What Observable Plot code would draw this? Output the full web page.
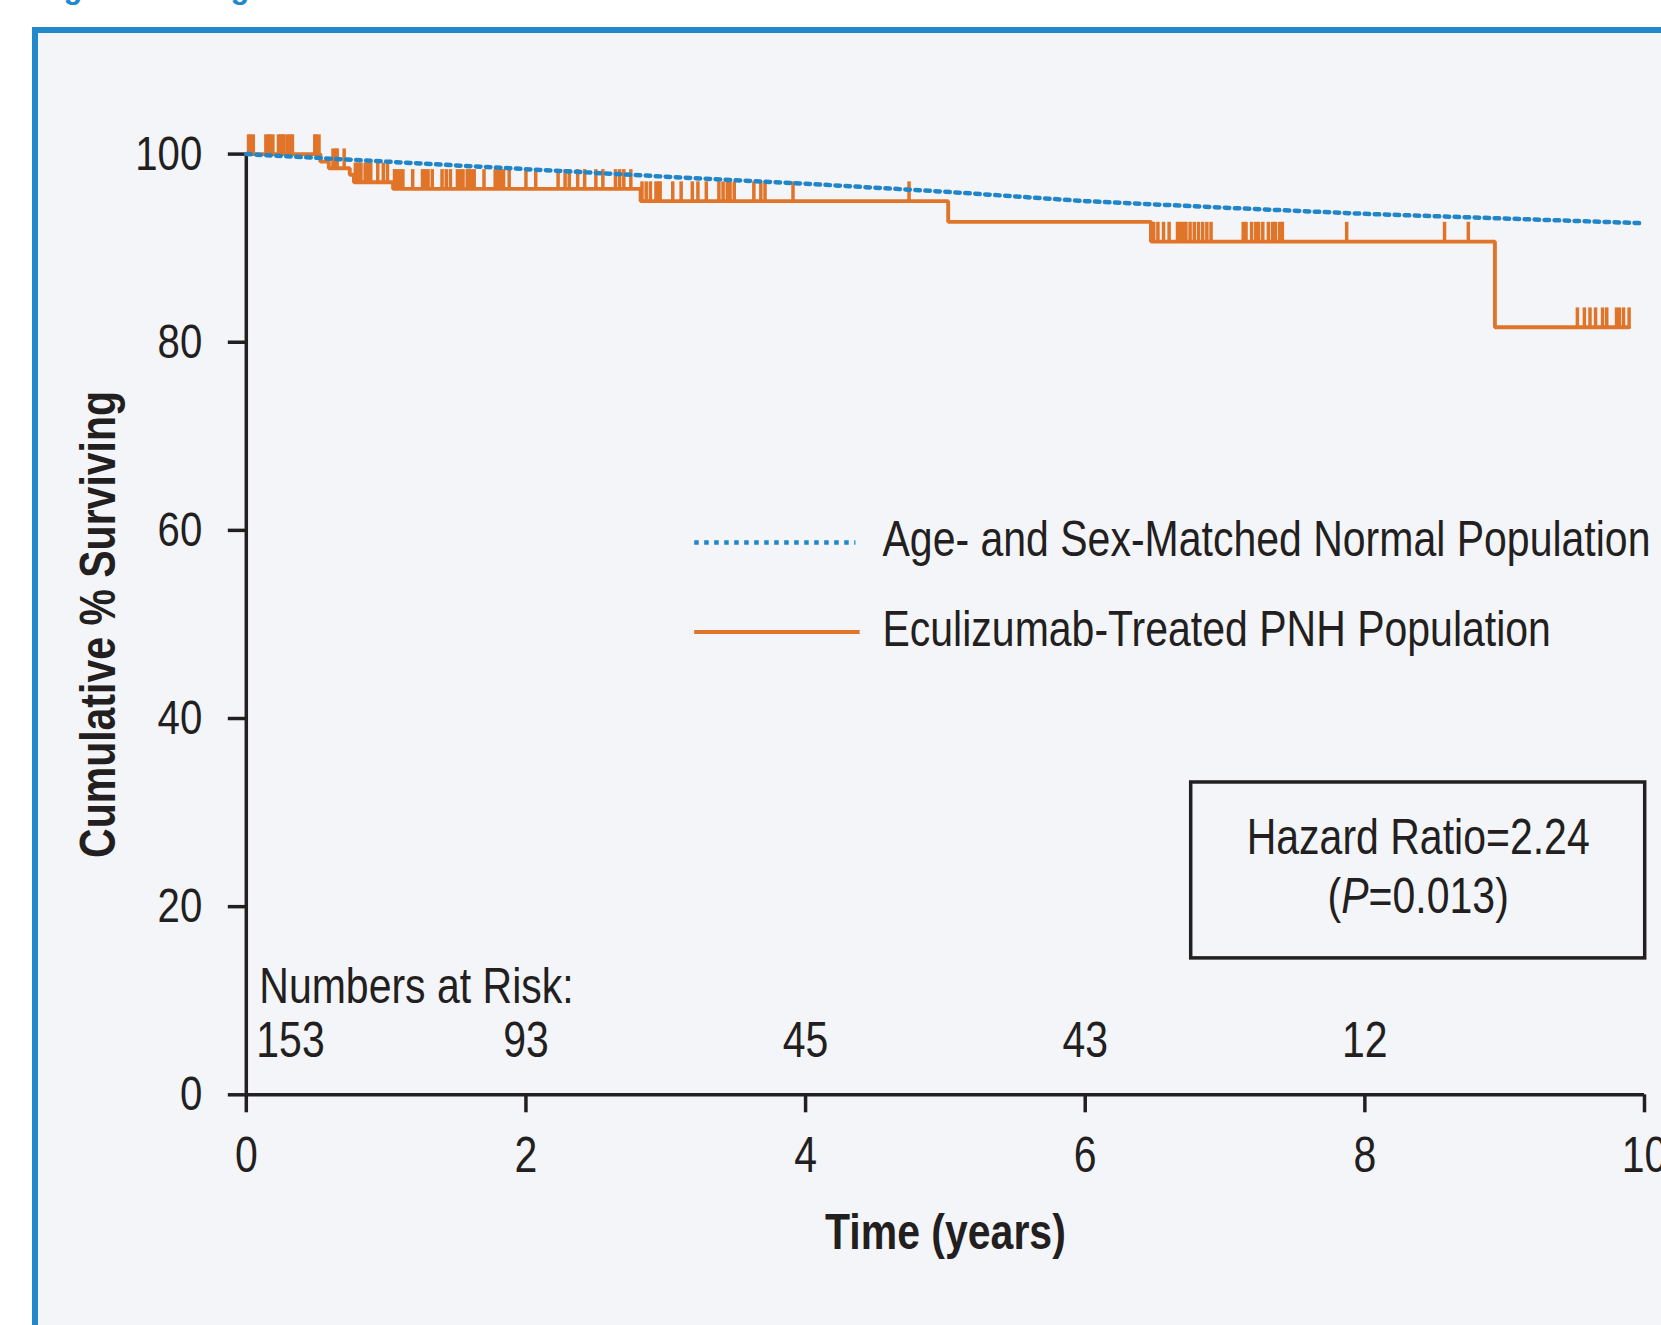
<!DOCTYPE html>
<html><head><meta charset="utf-8">
<script src="https://cdn.jsdelivr.net/npm/d3@7"></script>
<script src="https://cdn.jsdelivr.net/npm/@observablehq/plot@0.6"></script>
<style>
html,body{margin:0;padding:0;background:#fff;}
body{width:1661px;height:1325px;overflow:hidden;position:relative;}
#title{position:absolute;left:36px;top:-28px;font:bold 31px 'Liberation Sans',Arial,sans-serif;color:#2288cc;line-height:1;white-space:nowrap;}
#panel{position:absolute;left:32px;top:27px;width:1700px;height:1400px;background:#f4f5f9;border-left:6px solid #2288cc;border-top:6px solid #2288cc;}
#chart{position:absolute;left:0;top:0;}
</style></head>
<body>
<div id="title">Figure 2. Long-Term Overall Survival</div>
<div id="panel"></div>
<div id="chart"></div>
<script>
// ---- data ----
const xTicks = [0, 2, 4, 6, 8, 10];
const yTicks = [0, 20, 40, 60, 80, 100];

// Kaplan-Meier steps (eculizumab-treated PNH population)
const kmTimes = [0, 0.53, 0.59, 0.74, 0.77, 1.05, 2.82, 5.02, 6.47, 8.93, 9.89];
const kmSurv  = [100, 99.2, 98.5, 97.8, 97.0, 96.3, 95.0, 92.8, 90.7, 81.6, 81.6];

// censoring times (years)
const censorTimes = [
  0.016,0.03,0.05,0.14,0.16,0.17,0.19,0.23,0.245,0.26,0.27,0.295,0.316,0.33,0.49,0.50,0.52,
  0.62,0.64,0.65,0.70,
  0.78,0.80,0.82,0.85,0.87,0.89,0.94,0.98,1.01,
  1.06,1.08,1.10,1.12,1.19,1.26,1.28,1.30,1.33,1.40,1.43,1.46,1.51,1.53,1.55,1.58,1.59,1.61,1.63,
  1.70,1.78,1.80,1.82,1.84,1.88,2.00,2.07,2.23,2.28,2.31,2.37,2.42,2.50,2.55,2.64,2.67,2.70,2.75,
  2.83,2.86,2.89,2.93,2.95,2.96,3.05,3.11,3.19,3.23,3.29,3.38,3.41,3.44,3.46,3.49,3.63,3.68,3.71,3.91,4.74,
  6.49,6.52,6.56,6.60,6.66,6.68,6.70,6.72,6.75,6.78,6.81,6.84,6.87,6.90,
  7.13,7.15,7.19,7.22,7.24,7.27,7.31,7.34,7.36,7.39,7.41,7.87,8.57,8.74,
  9.52,9.57,9.61,9.65,9.70,9.73,9.80,9.82,9.85,9.89
];

// age- and sex-matched normal population
const expTimes = [0, 1, 2, 3, 4, 5, 6, 7, 8, 9, 10];
const expSurv  = [100, 99.2, 98.4, 97.6, 96.85, 96.0, 95.0, 94.3, 93.65, 93.15, 92.65];

// numbers at risk
const riskTimes  = [0, 2, 4, 6, 8];
const riskCounts = [153, 93, 45, 43, 12];

const seriesNames = ["Age- and Sex-Matched Normal Population", "Eculizumab-Treated PNH Population"];
const hazardText = ["Hazard Ratio=2.24", "(P=0.013)"];

// ---- styles ----
const ORANGE = "#e07428";
const BLUE = "#2185c9";
const INK = "#231f20";
const FONT = "'Liberation Sans',Arial,Helvetica,sans-serif";
const CONDENSE = 0.82;
const DOTS = "4.5,5.5";

const km = kmTimes.map((t, i) => ({t, s: kmSurv[i]}));
const exp = expTimes.map((t, i) => ({t, s: expSurv[i]}));
function levelAt(t) {
  let v = kmSurv[0];
  for (let i = 0; i < kmTimes.length; i++) if (kmTimes[i] <= t) v = kmSurv[i];
  return v;
}
const censors = censorTimes.map(t => ({t, s: levelAt(t)}));
const risk = riskTimes.map((t, i) => ({t, n: riskCounts[i]}));

// legend / annotation layout (in chart units)
const legendY = [58.7, 49.2];
const legendX = [3.207, 4.39];
const hrBox = {x1: 6.758, x2: 10.005, y1: 14.5, y2: 33.2};

const chart = Plot.plot({
  width: 1661,
  height: 1325,
  marginLeft: 245.8,
  marginRight: 17,
  marginTop: 153.6,
  marginBottom: 230.7,
  x: {domain: [0, 10]},
  y: {domain: [0, 100]},
  style: {background: "transparent", fontFamily: FONT, fontSize: "50px", color: INK},
  marks: [
    // axes
    Plot.axisY(yTicks, {tickSize: 18, tickPadding: 26, strokeWidth: 3.5, stroke: INK, fill: INK, fontSize: 49, label: null, tickFormat: d => String(d)}),
    Plot.axisX(xTicks, {tickSize: 18, tickPadding: 24, strokeWidth: 3.5, stroke: INK, fill: INK, fontSize: 50, label: null, tickFormat: d => String(d)}),
    Plot.ruleX([0], {y1: 0, y2: 100, stroke: INK, strokeWidth: 3.5}),
    Plot.ruleY([0], {x1: 0, x2: 10, stroke: INK, strokeWidth: 3.5}),
    // axis titles
    Plot.text(["Cumulative % Surviving"], {frameAnchor: "left", dx: -147, rotate: -90, textAnchor: "middle", lineAnchor: "middle", fontWeight: "bold", fontSize: 50, fill: INK}),
    Plot.text(["Time (years)"], {frameAnchor: "bottom", dy: 138, textAnchor: "middle", lineAnchor: "middle", fontWeight: "bold", fontSize: 50, fill: INK}),
    // KM curve
    Plot.line(km, {x: "t", y: "s", curve: "step-after", stroke: ORANGE, strokeWidth: 3.9, strokeLinejoin: "miter"}),
    Plot.ruleX(censors, {x: "t", y1: "s", y2: d => d.s + 2.05, stroke: ORANGE, strokeWidth: 3.5}),
    // expected survival
    Plot.line(exp, {x: "t", y: "s", stroke: BLUE, strokeWidth: 4.5, strokeDasharray: DOTS}),
    // legend
    Plot.ruleY([legendY[0]], {x1: legendX[0], x2: legendX[1] - 0.03, stroke: BLUE, strokeWidth: 4.5, strokeDasharray: DOTS}),
    Plot.ruleY([legendY[1]], {x1: legendX[0], x2: legendX[1], stroke: ORANGE, strokeWidth: 3.9}),
    Plot.text(seriesNames, {y: (d, i) => legendY[i] + 0.25, x: 4.55, text: d => d, textAnchor: "start", fontSize: 50, fill: INK}),
    // hazard ratio box
    Plot.rect([hrBox], {x1: "x1", x2: "x2", y1: "y1", y2: "y2", fill: "none", stroke: INK, strokeWidth: 3.5}),
    Plot.text(hazardText, {x: (hrBox.x1 + hrBox.x2) / 2, y: (d, i) => i === 0 ? 27.35 : 21.0, text: d => d, fontSize: 50, fill: INK}),
    // numbers at risk
    Plot.text(["Numbers at Risk:"], {x: 0, y: 11.5, dx: 13, textAnchor: "start", fontSize: 50, fill: INK}),
    Plot.text(risk.slice(0, 1), {x: "t", y: 5.7, dx: 10, text: "n", textAnchor: "start", fontSize: 50, fill: INK}),
    Plot.text(risk.slice(1), {x: "t", y: 5.7, text: "n", fontSize: 50, fill: INK})
  ]
});

const ns = "http://www.w3.org/2000/svg";
chart.querySelectorAll("text").forEach(t => {
  // make the "P" italic
  if (t.textContent === hazardText[1] && t.children.length === 0) {
    t.textContent = "";
    const a = document.createElementNS(ns, "tspan"); a.textContent = "(";
    const b = document.createElementNS(ns, "tspan"); b.textContent = "P"; b.setAttribute("font-style", "italic");
    const c = document.createElementNS(ns, "tspan"); c.textContent = "=0.013)";
    t.append(a, b, c);
  }
  // condensed lettering, as in the reference
  const x = +t.getAttribute("x") || 0, y = +t.getAttribute("y") || 0;
  const tr = t.getAttribute("transform") || "";
  t.setAttribute("transform", `${tr} translate(${x},${y}) scale(${CONDENSE},1) translate(${-x},${-y})`);
});
document.getElementById("chart").append(chart);
</script>
</body></html>
